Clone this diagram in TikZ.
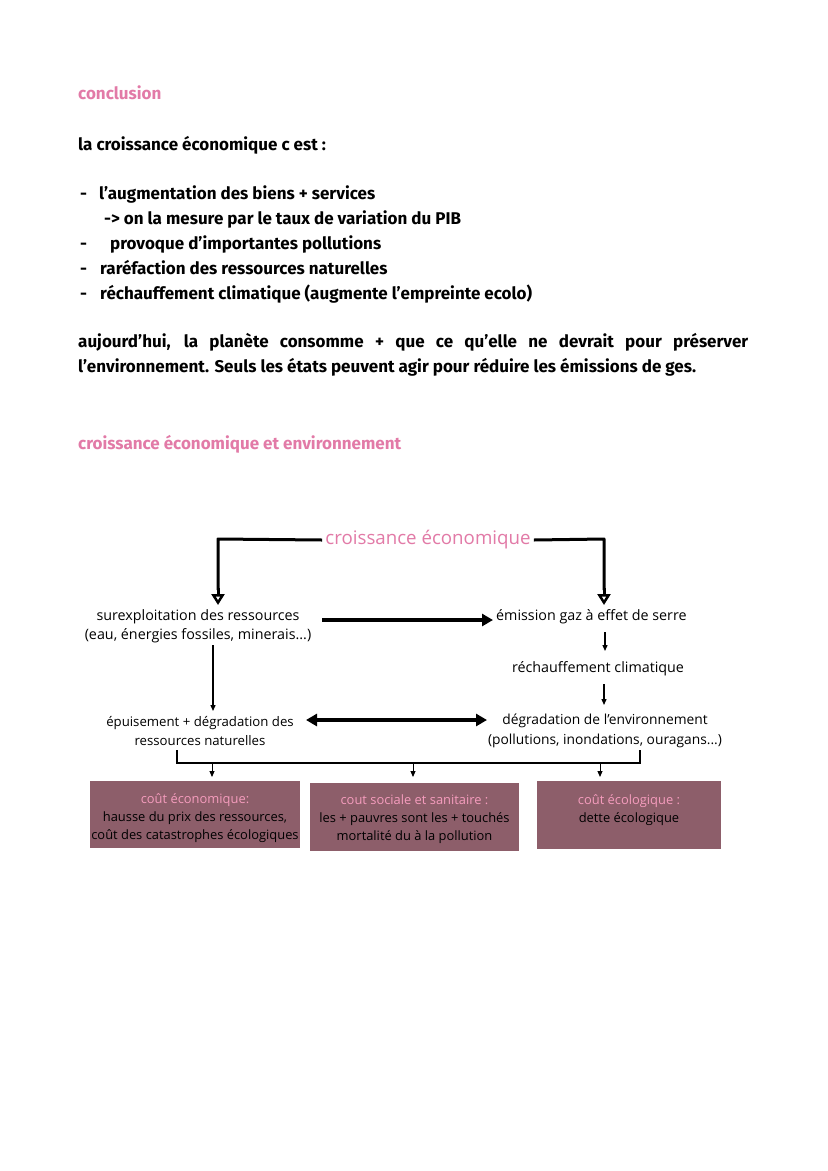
\documentclass[tikz,border=0pt]{standalone}
\usepackage{fontspec}
\setmainfont{Fira Sans}
\newfontfamily\hand{Fira Sans}
\newfontfamily\diag{Open Sans}
\usetikzlibrary{arrows.meta}
\definecolor{pinkt}{HTML}{E27AA7}
\definecolor{boxc}{HTML}{8D5E6A}
\definecolor{boxt}{HTML}{F59CBD}
\tikzset{
  htext/.style={anchor=base west, inner sep=0pt, font=\hand\bfseries\fontsize{17}{20}\selectfont},
  ptitle/.style={htext, text=pinkt},
  dtext/.style={inner sep=0pt, align=center, font=\diag\fontsize{14.3}{19}\selectfont},
  costbox/.style={fill=boxc, inner sep=0pt},
  costtext/.style={inner sep=0pt, align=center, font=\diag\fontsize{12.9}{18}\selectfont},
  bigline/.style={line width=3pt, -{Triangle[open, length=11pt, width=13pt, line width=2.5pt]}},
  fatarrow/.style={line width=3.5pt, -{Triangle[length=11pt, width=12pt]}},
  thin/.style={line width=1.3pt, -{Triangle[length=6pt, width=5pt]}},
}
\begin{document}
\begin{tikzpicture}[x=1pt,y=-1pt]
\useasboundingbox (0,0) rectangle (828,1171);
\fill[white] (0,0) rectangle (828,1171);

\node[ptitle] (concl) at (78,99) {conclusion};
\node[htext] (def) at (78,150) {la croissance économique c est :};
\node[htext] (d1) at (80,199) {-};
\node[htext] (b1) at (99,199) {l’augmentation des biens + services};
\node[htext] (b1a) at (104,224) {-> on la mesure par le taux de variation du PIB};
\node[htext] (d2) at (80,249) {-};
\node[htext] (b2) at (110,249) {provoque d’importantes pollutions};
\node[htext] (d3) at (80,274) {-};
\node[htext] (b3) at (100,274) {raréfaction des ressources naturelles};
\node[htext] (d4) at (80,299) {-};
\node[htext] (b4) at (100,299) {réchauffement climatique (augmente l’empreinte ecolo)};
\node[htext, anchor=north west, text width=670pt, align=justify, font=\hand\bfseries\fontsize{17}{25}\selectfont] (para) at (78,333)
  {aujourd’hui, la planète consomme + que ce qu’elle ne devrait pour préserver l’environnement. Seuls les états peuvent agir pour réduire les émissions de ges.};
\node[ptitle] (t2) at (78,449) {croissance économique et environnement};

% diagram
\node[dtext, text=pinkt, font=\diag\fontsize{18.7}{22}\selectfont, inner xsep=3pt] (ce) at (428,540) {croissance économique};
\node[dtext] (sur) at (198,626) {surexploitation des ressources\\(eau, énergies fossiles, minerais...)};
\node[dtext, anchor=west] (ges) at (496,617) {émission gaz à effet de serre};
\node[dtext] (rech) at (598,669) {réchauffement climatique};
\node[dtext, font=\diag\fontsize{13.2}{19}\selectfont] (epu) at (200,731) {épuisement + dégradation des\\ressources naturelles};
\node[dtext, font=\diag\fontsize{13.8}{20}\selectfont] (deg) at (605,731) {dégradation de l’environnement\\(pollutions, inondations, ouragans...)};

\coordinate (lt) at (218,539);
\coordinate (rt) at (604,539);
\coordinate (la) at (218,605);
\coordinate (ra) at (604,605);
\draw[line width=3pt, line join=round] (ce.west) -- (lt) -- (218,590);
\draw[bigline] (218,588) -- (la);
\draw[line width=3pt, line join=round] (ce.east) -- (rt) -- (604,590);
\draw[bigline] (604,588) -- (ra);

\coordinate (gesin) at (493,620);
\draw[fatarrow] (322,620) -- (gesin);
\draw[thin] (605,632) -- (605,651);
\draw[thin] (604,684) -- (604,705);
\draw[thin] (213,645) -- (213,711);
\draw[line width=3.5pt, {Triangle[length=11pt, width=12pt]}-{Triangle[length=11pt, width=12pt]}] (306,720) -- (487,720);

% bracket
\coordinate (bl) at (177,750);
\coordinate (br) at (640,750);
\draw[line width=1.3pt] (bl) -- (177,763) -- (640,763) -- (br);
\draw[thin, line width=1pt] (212,763) -- (212,777);
\draw[thin, line width=1pt] (413,763) -- (413,777);
\draw[thin, line width=1pt] (600,763) -- (600,777);

\node[costbox, minimum width=210pt, minimum height=67pt] (c1) at (195,814.5) {};
\node[costtext] (c1t) at (195,818)
  {\textcolor{boxt}{coût économique:}\\hausse du prix des ressources,\\coût des catastrophes écologiques};
\node[costbox, minimum width=209pt, minimum height=68pt] (c2) at (414.5,817) {};
\node[costtext] (c2t) at (414.5,819)
  {\textcolor{boxt}{cout sociale et sanitaire :}\\les + pauvres sont les + touchés\\mortalité du à la pollution};
\node[costbox, minimum width=184pt, minimum height=68pt] (c3) at (629,815) {};
\node[costtext] (c3t) at (629,810)
  {\textcolor{boxt}{coût écologique :}\\dette écologique};
\end{tikzpicture}
\end{document}
